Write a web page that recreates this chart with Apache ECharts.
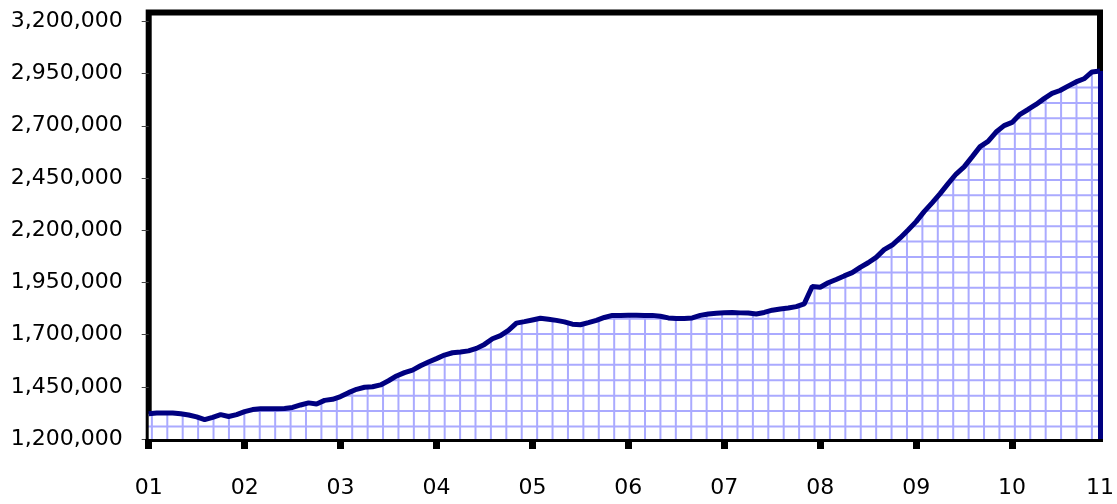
<!DOCTYPE html>
<html>
<head>
<meta charset="utf-8">
<script src="https://cdn.jsdelivr.net/npm/echarts@6/dist/echarts.min.js"></script>
<style>
  html, body { margin: 0; padding: 0; background: #fff; }
  #chart { width: 1117px; height: 504px; }
</style>
</head>
<body>
<div id="chart"></div>
<script>
// monthly values, Jan 01 .. Dec 10
var values = [
  1321000, 1324000, 1325000, 1325000, 1321000, 1315000, 1306000, 1293000, 1304000, 1317000, 1308000, 1317000,
  1331000, 1341000, 1345000, 1345000, 1345000, 1346000, 1351000, 1363000, 1373000, 1368000, 1385000, 1390000,
  1403000, 1422000, 1438000, 1448000, 1450000, 1459000, 1479000, 1502000, 1518000, 1530000, 1551000, 1569000,
  1585000, 1602000, 1613000, 1617000, 1622000, 1634000, 1653000, 1680000, 1695000, 1720000, 1755000, 1762000,
  1770000, 1778000, 1773000, 1768000, 1761000, 1750000, 1747000, 1757000, 1768000, 1782000, 1792000, 1792000,
  1793000, 1793000, 1792000, 1792000, 1788000, 1780000, 1777000, 1777000, 1780000, 1792000, 1799000, 1802000,
  1805000, 1806000, 1804000, 1803000, 1799000, 1806000, 1817000, 1823000, 1827000, 1834000, 1847000, 1930000,
  1927000, 1948000, 1964000, 1981000, 1997000, 2022000, 2044000, 2070000, 2107000, 2129000, 2163000, 2201000,
  2241000, 2289000, 2331000, 2375000, 2423000, 2469000, 2503000, 2551000, 2600000, 2625000, 2670000, 2701000,
  2716000, 2755000, 2778000, 2802000, 2830000, 2855000, 2869000, 2890000, 2910000, 2925000, 2958000, 2962000
]
// x tick labels and the month index they sit on
var xLabels = ['01', '02', '03', '04', '05', '06', '07', '08', '09', '10', '11']
var xLabelAt = [0, 12, 24, 36, 48, 60, 72, 84, 96, 108, 119]
var xTickAt = [0, 12, 24, 36, 48, 60, 72, 84, 96, 108]
var yTicks = [1200000, 1450000, 1700000, 1950000, 2200000, 2450000, 2700000, 2950000, 3200000]

var seriesData = values.map(function (v, i) { return [i, v] })
var last = seriesData[seriesData.length - 1]

function fmt (v) {
  return String(v).replace(/\B(?=(\d{3})+(?!\d))/g, ',')
}

// grid hatch like the excel pattern fill
var pat = document.createElement('canvas')
pat.width = 1117
pat.height = 504
var ctx = pat.getContext('2d')
ctx.fillStyle = '#ffffff'
ctx.fillRect(0, 0, pat.width, pat.height)
ctx.strokeStyle = '#aaaaff'
ctx.lineWidth = 2
var step = 15.41
for (var x = 167.3 - step * 2; x < pat.width; x += step) {
  ctx.beginPath()
  ctx.moveTo(x, 0)
  ctx.lineTo(x, pat.height)
  ctx.stroke()
}
for (var y = 426.5 + step * 2; y > 0; y -= step) {
  ctx.beginPath()
  ctx.moveTo(0, y)
  ctx.lineTo(pat.width, y)
  ctx.stroke()
}

var myChart = echarts.init(document.getElementById('chart'))
myChart.setOption({
  backgroundColor: '#fff',
  animation: false,
  grid: {
    left: 148.7,
    right: 1117 - 1101.7,
    top: 12.6,
    bottom: 65,
    show: true,
    borderColor: '#000',
    borderWidth: 6,
    backgroundColor: 'transparent'
  },
  xAxis: {
    type: 'value',
    min: 0,
    max: 119,
    axisLine: { show: false },
    splitLine: { show: false },
    axisTick: {
      show: true,
      customValues: xTickAt,
      length: 10,
      lineStyle: { color: '#000', width: 7 }
    },
    axisLabel: {
      customValues: xLabelAt,
      margin: 38,
      fontFamily: 'DejaVu Sans',
      fontSize: 22,
      color: '#000',
      formatter: function (v) {
        var i = xLabelAt.indexOf(v)
        return i >= 0 ? xLabels[i] : ''
      }
    }
  },
  yAxis: {
    type: 'value',
    min: 1200000,
    max: 3242000,
    interval: 250000,
    axisLine: { show: false },
    splitLine: { show: false },
    axisTick: {
      show: true,
      customValues: yTicks,
      length: 7,
      lineStyle: { color: '#444', width: 1 }
    },
    axisLabel: {
      customValues: yTicks,
      margin: 26,
      fontFamily: 'DejaVu Sans',
      fontSize: 22,
      color: '#000',
      formatter: function (v) { return fmt(v) }
    }
  },
  series: [
    {
      type: 'line',
      data: seriesData,
      showSymbol: false,
      lineStyle: { color: '#000080', width: 5 },
      areaStyle: {
        color: { image: pat, repeat: 'no-repeat' },
        opacity: 1
      },
      markLine: {
        silent: true,
        symbol: 'none',
        label: { show: false },
        lineStyle: { color: '#000080', width: 5, type: 'solid' },
        data: [[{ coord: last }, { coord: [last[0], 1200000] }]]
      }
    }
  ]
})
</script>
</body>
</html>
